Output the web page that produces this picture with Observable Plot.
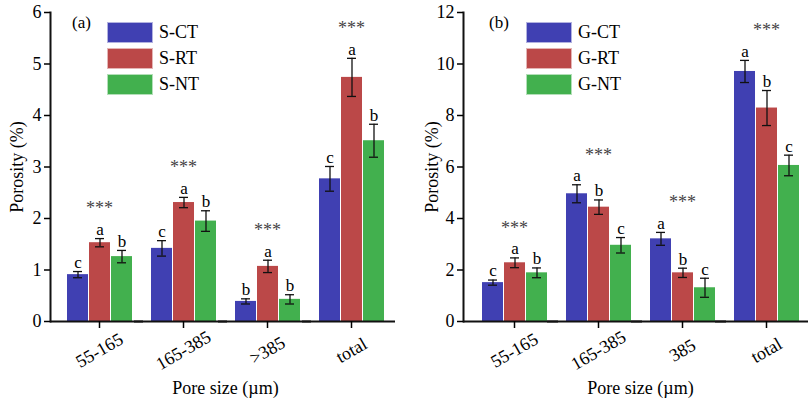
<!DOCTYPE html>
<html>
<head>
<meta charset="utf-8">
<script src="https://cdn.jsdelivr.net/npm/d3@7"></script>
<script src="https://cdn.jsdelivr.net/npm/@observablehq/plot@0.6"></script>
<style>
  body { margin: 0; background: #fff; font-family: "Liberation Serif", "Times New Roman", serif; }
  #wrap { display: flex; width: 808px; height: 402px; }
  .panel { position: relative; width: 404px; height: 402px; }
  .tag { position: absolute; font-size: 17px; line-height: 20px; }
  .leg { position: absolute; display: flex; flex-direction: column; gap: 5px; }
  .leg .row { display: flex; align-items: center; height: 21px; }
  .leg .sw { width: 46px; height: 21px; box-sizing: border-box; border: 1px solid rgba(255,255,255,0.6); }
  .leg .lb { margin-left: 6px; font-size: 18px; }
</style>
</head>
<body>
<div id="wrap"></div>
<script>
// ---------- data ----------
const catsA = ["55-165", "165-385", ">385", "total"];
const catsB = ["55-165", "165-385", "385", "total"];
const trtA = ["S-CT", "S-RT", "S-NT"];
const trtB = ["G-CT", "G-RT", "G-NT"];
const colors = ["#4040b2", "#bb4848", "#42b04e"];

const sCT = [0.91, 1.42, 0.39, 2.77];
const sCTerr = [0.06, 0.15, 0.05, 0.24];
const sCTlet = ["c", "c", "b", "c"];
const sRT = [1.53, 2.31, 1.07, 4.74];
const sRTerr = [0.08, 0.10, 0.12, 0.37];
const sRTlet = ["a", "a", "a", "a"];
const sNT = [1.26, 1.95, 0.43, 3.51];
const sNTerr = [0.12, 0.20, 0.09, 0.32];
const sNTlet = ["b", "b", "b", "b"];

const gCT = [1.51, 4.96, 3.21, 9.71];
const gCTerr = [0.10, 0.35, 0.25, 0.43];
const gCTlet = ["c", "a", "a", "a"];
const gRT = [2.28, 4.44, 1.89, 8.29];
const gRTerr = [0.19, 0.28, 0.18, 0.68];
const gRTlet = ["a", "b", "b", "b"];
const gNT = [1.89, 2.96, 1.31, 6.06];
const gNTerr = [0.19, 0.30, 0.37, 0.40];
const gNTlet = ["b", "c", "c", "c"];

const sigA = ["***", "***", "***", "***"];
const sigB = ["***", "***", "***", "***"];
const yTicksA = [0, 1, 2, 3, 4, 5, 6];
const yTicksB = [0, 2, 4, 6, 8, 10, 12];

// ---------- build ----------
function rowsOf(cats, trts, vals, errs, lets) {
  const rows = [];
  cats.forEach((c, i) => trts.forEach((t, j) => {
    rows.push({cat: c, trt: t, v: vals[j][i], lo: vals[j][i] - errs[j][i], hi: vals[j][i] + errs[j][i], let: lets[j][i]});
  }));
  return rows;
}
function sigOf(cats, rows, sig) {
  return cats.map((c, i) => ({cat: c, top: d3.max(rows.filter(r => r.cat === c), r => r.hi), sig: sig[i]}));
}

function panel({cats, trts, rows, sigs, yDomain, yTicks, tag, marginLeft, marginRight, shift, legendLeft, tagLeft}) {
  const div = document.createElement("div");
  div.className = "panel";
  const chart = Plot.plot({
    width: 404, height: 402,
    marginLeft, marginRight, marginTop: 12, marginBottom: 81,
    style: {fontFamily: "Liberation Serif, Times New Roman, serif", fontSize: "17px", color: "black", background: "white"},
    fx: {domain: cats, paddingInner: 0, paddingOuter: 0, label: null},
    x: {domain: trts, paddingInner: 0.066, paddingOuter: 0.375, axis: null},
    y: {domain: yDomain},
    color: {domain: trts, range: colors},
    marks: [
      Plot.barY(rows, {fx: "cat", x: "trt", y: "v", fill: "trt"}),
      Plot.ruleX(rows, {fx: "cat", x: "trt", y1: "lo", y2: "hi", stroke: "#111", strokeWidth: 1.3}),
      Plot.tickY(rows, {fx: "cat", x: "trt", y: "lo", stroke: "#111", strokeWidth: 1.3, insetLeft: 6, insetRight: 6}),
      Plot.tickY(rows, {fx: "cat", x: "trt", y: "hi", stroke: "#111", strokeWidth: 1.3, insetLeft: 6, insetRight: 6}),
      Plot.text(rows, {fx: "cat", x: "trt", y: "hi", text: "let", dy: -9, fontSize: 17}),
      Plot.text(sigs, {fx: "cat", y: "top", text: "sig", dy: -30, fontSize: 18, fill: "#444"}),
      Plot.ruleY([0], {stroke: "#111", strokeWidth: 2, insetLeft: -shift, insetRight: -2}),
      Plot.frame({anchor: "left", facetAnchor: "left", dx: -shift, stroke: "#111", strokeWidth: 2}),
      Plot.axisY({ticks: yTicks, tickFormat: d => String(d), tickSize: 6, dx: -shift, strokeWidth: 1.5, tickPadding: 3, fontSize: 18,
        label: "Porosity (%)", labelAnchor: "center", labelArrow: "none", labelOffset: 47}),
      Plot.axisFx({anchor: "bottom", tickSize: 7, strokeWidth: 1.5, tickRotate: -30, textAnchor: "middle", lineAnchor: "middle",
        tickPadding: 22, fontSize: 18, label: "Pore size (µm)", labelArrow: "none", labelAnchor: "center", labelOffset: 72})
    ]
  });
  div.appendChild(chart);
  const t = document.createElement("div");
  t.className = "tag";
  t.style.left = tagLeft + "px";
  t.style.top = "13px";
  t.textContent = tag;
  div.appendChild(t);
  const leg = document.createElement("div");
  leg.className = "leg";
  leg.style.left = legendLeft + "px";
  leg.style.top = "22px";
  trts.forEach((name, i) => {
    const r = document.createElement("div");
    r.className = "row";
    const sw = document.createElement("div");
    sw.className = "sw";
    sw.style.background = colors[i];
    const lb = document.createElement("span");
    lb.className = "lb";
    lb.textContent = name;
    r.appendChild(sw); r.appendChild(lb);
    leg.appendChild(r);
  });
  div.appendChild(leg);
  return div;
}

const rowsA = rowsOf(catsA, trtA, [sCT, sRT, sNT], [sCTerr, sRTerr, sNTerr], [sCTlet, sRTlet, sNTlet]);
const rowsB = rowsOf(catsB, trtB, [gCT, gRT, gNT], [gCTerr, gRTerr, gNTerr], [gCTlet, gRTlet, gNTlet]);

const wrap = document.getElementById("wrap");
wrap.appendChild(panel({cats: catsA, trts: trtA, rows: rowsA, sigs: sigOf(catsA, rowsA, sigA), yDomain: [0, 6], yTicks: yTicksA,
  tag: "(a)", marginLeft: 57, marginRight: 11, shift: 7, legendLeft: 107, tagLeft: 72}));
wrap.appendChild(panel({cats: catsB, trts: trtB, rows: rowsB, sigs: sigOf(catsB, rowsB, sigB), yDomain: [0, 12], yTicks: yTicksB,
  tag: "(b)", marginLeft: 68, marginRight: 0, shift: 9, legendLeft: 122, tagLeft: 85}));
</script>
</body>
</html>
